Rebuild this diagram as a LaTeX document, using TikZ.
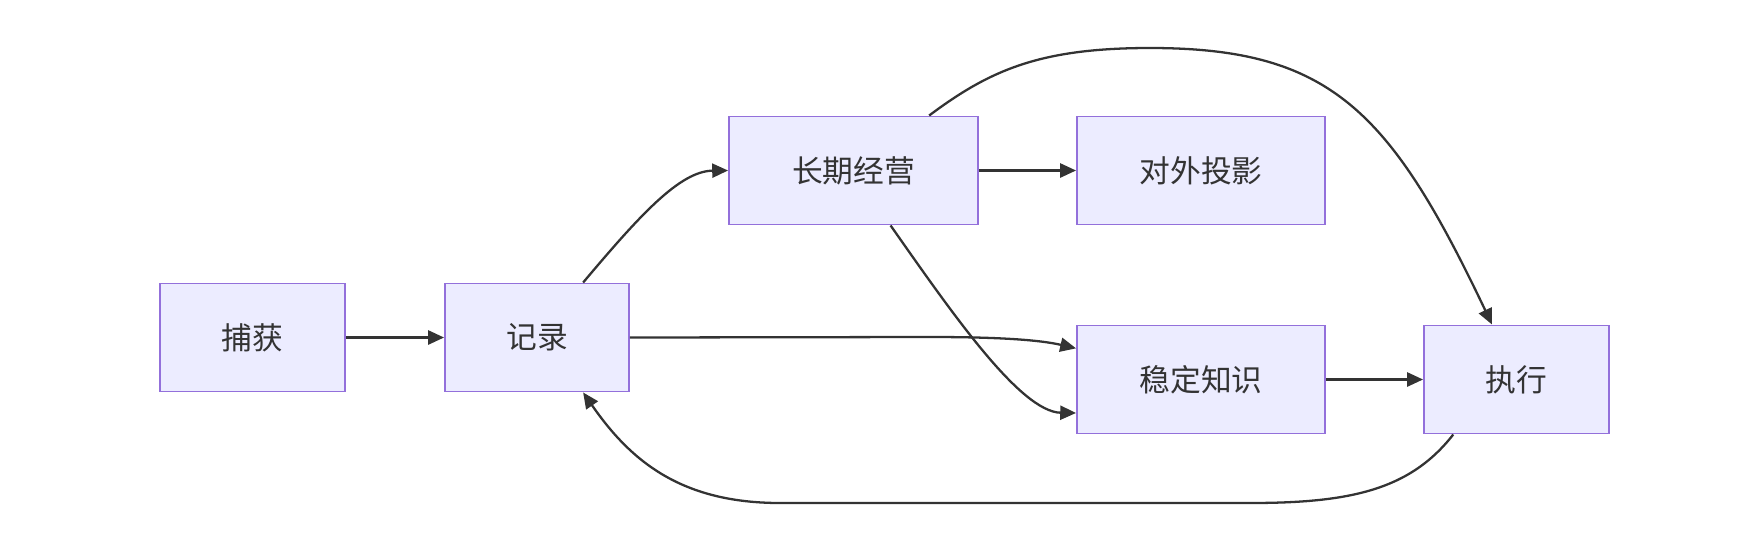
\documentclass[tikz,border=0pt]{standalone}
\usepackage{fontspec}
\setmainfont{Noto Sans CJK SC}
\usetikzlibrary{arrows.meta}
\definecolor{boxfill}{HTML}{ECECFF}
\definecolor{boxline}{HTML}{9370DB}
\definecolor{edgeline}{HTML}{333333}
\begin{document}
\begin{tikzpicture}[x=0.02cm, y=-0.02cm,
    box/.style={draw=boxline, fill=boxfill, line width=1.1pt, text=edgeline,
      minimum height=108*0.02cm, inner sep=0pt, font=\fontsize{17.5}{20}\selectfont},
    edge/.style={draw=edgeline, line width=1.3pt, -{Triangle[length=9pt, width=8pt]}}]
    \useasboundingbox (0,0) rectangle (1756,542);

    % Boxes
    \node[box, minimum width=185*0.02cm] (capture) at (252.5,337.5) {捕获};
    \node[box, minimum width=184*0.02cm] (record) at (537,337.5) {记录};
    \node[box, minimum width=249*0.02cm] (longterm) at (853.5,170.5) {长期经营};
    \node[box, minimum width=248*0.02cm] (project) at (1201,170.5) {对外投影};
    \node[box, minimum width=248*0.02cm] (stable) at (1201,379.5) {稳定知识};
    \node[box, minimum width=185*0.02cm] (execute) at (1516.5,379.5) {执行};

    % Straight links
    \draw[edge] (capture) -- (record);
    \draw[edge] (longterm) -- (project);
    \draw[edge] (stable) -- (execute);

    % Curved links
    \draw[edge] (record.50) .. controls (640,215) and (680,171) .. (longterm.west);
    \draw[edge] (record.east) -- (930,337) .. controls (1000,337) and (1040,340) .. (stable.166);
    \draw[edge] (longterm.-56) .. controls (950,310) and (1020,412) .. (stable.195);
    \draw[edge] (longterm.36) .. controls (990,70) and (1040,48) .. (1150,48)
        .. controls (1330,48) and (1390,110) .. (execute.114);

    % Feedback loop
    \draw[edge] (execute.221) .. controls (1410,490) and (1350,503) .. (1250,503)
        -- (780,503) .. controls (680,503) and (630,460) .. (record.310);
\end{tikzpicture}
\end{document}
